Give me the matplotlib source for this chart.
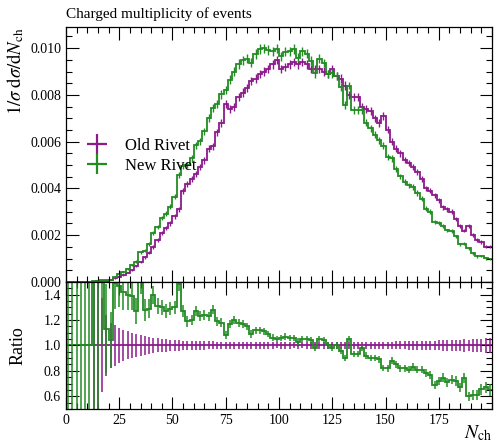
import matplotlib
matplotlib.use('Agg')
import matplotlib.pyplot as plt
from matplotlib.lines import Line2D
from matplotlib.ticker import MultipleLocator
import numpy as np

plt.rcParams['font.family'] = ['Liberation Serif', 'DejaVu Serif']
plt.rcParams['mathtext.fontset'] = 'stix'

# bins of width 2 in N_ch, 0..200
edges = np.arange(0, 202, 2)

# Old Rivet, 1/sigma dsigma/dNch per bin
old_vals = [
    0.0, 0.0, 0.0, 0.0, 0.0, 0.0, 0.00001, 0.00002, 0.00004, 0.00006,
    0.0001, 0.00015, 0.00022, 0.0003, 0.0004, 0.00052, 0.00068, 0.00085, 0.00105, 0.00125,
    0.0015, 0.0018, 0.0021, 0.0023, 0.0025, 0.0028, 0.0031, 0.0039, 0.0042, 0.0044,
    0.0046, 0.0049, 0.0052, 0.0057, 0.0058, 0.0064, 0.0068, 0.0076, 0.0074, 0.0075,
    0.0079, 0.0081, 0.0083, 0.0086, 0.0087, 0.0089, 0.0090, 0.0091, 0.0093, 0.0095,
    0.0091, 0.0092, 0.0093, 0.0094, 0.0093, 0.0094, 0.0093, 0.0091, 0.0091, 0.0091,
    0.0090, 0.0089, 0.0091, 0.0088, 0.0087, 0.0084, 0.0080, 0.0079, 0.0079, 0.0075,
    0.0074, 0.0073, 0.0070, 0.0068, 0.0071, 0.0065, 0.0060, 0.0057, 0.0055, 0.0052,
    0.0051, 0.0049, 0.0047, 0.0044, 0.0040, 0.0039, 0.0037, 0.0035, 0.0032, 0.0031,
    0.0030, 0.0027, 0.0024, 0.0022, 0.0024, 0.0020, 0.0018, 0.0017, 0.0015, 0.0015,
]

# New Rivet / Old Rivet per bin
ratio_vals = [
    1.0, 1.0, 1.0, 1.0, 1.0, 1.0, 2.0, 1.9, 1.7, 1.13,
    1.04, 1.49, 1.47, 1.42, 1.40, 1.39, 1.27, 1.50, 1.28, 1.29,
    1.40, 1.31, 1.30, 1.27, 1.29, 1.30, 1.48, 1.27, 1.19, 1.20,
    1.27, 1.23, 1.24, 1.23, 1.28, 1.19, 1.18, 1.08, 1.17, 1.20,
    1.18, 1.17, 1.15, 1.09, 1.12, 1.12, 1.11, 1.09, 1.06, 1.05,
    1.06, 1.07, 1.06, 1.06, 1.03, 1.05, 1.05, 1.04, 0.98, 1.05,
    1.04, 1.00, 0.98, 1.00, 0.96, 0.90, 1.05, 0.93, 0.93, 0.98,
    0.92, 0.90, 0.90, 0.89, 0.82, 0.82, 0.88, 0.85, 0.82, 0.82,
    0.81, 0.83, 0.81, 0.81, 0.785, 0.77, 0.69, 0.72, 0.745, 0.71,
    0.73, 0.72, 0.67, 0.745, 0.60, 0.61, 0.61, 0.655, 0.67, 0.65,
]

# relative stat. errors (Old Rivet) per bin
old_relerr = [
    0.0, 0.0, 0.0, 0.0, 0.0, 0.0, 1.2, 0.6, 0.37, 0.24,
    0.18, 0.16, 0.14, 0.12, 0.11, 0.10, 0.088, 0.08, 0.072, 0.066,
    0.06, 0.055, 0.051, 0.048, 0.046, 0.044, 0.042, 0.038, 0.037, 0.036,
    0.035, 0.034, 0.033, 0.031, 0.031, 0.03, 0.029, 0.028, 0.028, 0.028,
    0.027, 0.027, 0.026, 0.026, 0.026, 0.025, 0.025, 0.025, 0.025, 0.024,
    0.025, 0.025, 0.025, 0.024, 0.025, 0.024, 0.025, 0.025, 0.025, 0.025,
    0.025, 0.025, 0.025, 0.025, 0.026, 0.026, 0.026, 0.027, 0.027, 0.027,
    0.028, 0.028, 0.028, 0.029, 0.028, 0.029, 0.030, 0.031, 0.031, 0.032,
    0.033, 0.033, 0.034, 0.035, 0.036, 0.037, 0.038, 0.039, 0.040, 0.041,
    0.042, 0.044, 0.046, 0.048, 0.046, 0.050, 0.052, 0.054, 0.056, 0.056,
]

# ratio errors of New Rivet (new error / old value) per bin
new_ratioerr = [
    3.0, 3.0, 3.0, 3.0, 3.0, 3.0, 3.0, 1.5, 0.7, 0.35,
    0.22, 0.2, 0.17, 0.14, 0.12, 0.11, 0.1, 0.095, 0.085, 0.075,
    0.07, 0.065, 0.06, 0.055, 0.052, 0.05, 0.05, 0.045, 0.042, 0.04,
    0.04, 0.038, 0.037, 0.036, 0.036, 0.034, 0.033, 0.031, 0.032, 0.032,
    0.031, 0.03, 0.03, 0.029, 0.029, 0.028, 0.028, 0.027, 0.027, 0.026,
    0.026, 0.027, 0.026, 0.026, 0.026, 0.025, 0.025, 0.025, 0.025, 0.025,
    0.025, 0.025, 0.025, 0.025, 0.025, 0.024, 0.026, 0.025, 0.025, 0.026,
    0.026, 0.026, 0.026, 0.027, 0.025, 0.026, 0.028, 0.028, 0.028, 0.029,
    0.029, 0.03, 0.03, 0.031, 0.031, 0.032, 0.031, 0.033, 0.034, 0.034,
    0.035, 0.036, 0.037, 0.041, 0.036, 0.039, 0.04, 0.043, 0.045, 0.045,
]

c_old = '#8b1a8b'
c_new = '#228b22'

old_vals = np.array(old_vals)
ratio_vals = np.array(ratio_vals)
new_vals = old_vals * ratio_vals
centers = 0.5 * (edges[:-1] + edges[1:])

fig = plt.figure(figsize=(4.96, 4.44), dpi=100)
ax = fig.add_axes([0.133, 0.365, 0.859, 0.574])
rax = fig.add_axes([0.133, 0.079, 0.859, 0.286], sharex=ax)

# main panel
ax.stairs(old_vals, edges, color=c_old, lw=1.3, baseline=None)
ax.errorbar(centers, old_vals, yerr=old_vals * np.array(old_relerr) * 0.8, fmt='none',
            ecolor=c_old, elinewidth=1.0)
ax.stairs(new_vals, edges, color=c_new, lw=1.3, baseline=None)
ax.errorbar(centers, new_vals, yerr=old_vals * np.array(new_ratioerr) * 0.8, fmt='none',
            ecolor=c_new, elinewidth=1.0)

ax.set_xlim(0, 200)
ax.set_ylim(0, 0.0109)
ax.yaxis.set_major_locator(MultipleLocator(0.002))
ax.yaxis.set_minor_locator(MultipleLocator(0.0005))
ax.yaxis.set_major_formatter(plt.FuncFormatter(lambda v, p: '%.3f' % v))
ax.tick_params(labelbottom=False)
ax.set_ylabel(r'$1/\sigma\;\mathrm{d}\sigma/\mathrm{d}N_\mathrm{ch}$', fontsize=13.5, ha='right')
ax.yaxis.set_label_coords(-0.093, 1.0)
ax.text(0.0, 1.025, 'Charged multiplicity of events', transform=ax.transAxes,
        fontsize=11, ha='left', va='bottom')

handles = [Line2D([], [], color=c_old, marker='+', markersize=14, mew=1.6, ls='none'),
           Line2D([], [], color=c_new, marker='+', markersize=14, mew=1.6, ls='none')]
ax.legend(handles, ['Old Rivet', 'New Rivet'], loc='upper left', bbox_to_anchor=(0.008, 0.625),
          frameon=False, fontsize=12, handletextpad=0.95, labelspacing=0.25, handlelength=1.5)

# ratio panel
rax.stairs(np.ones(len(old_vals)), edges, color=c_old, lw=1.3, baseline=None)
rax.errorbar(centers, np.ones(len(old_vals)), yerr=old_relerr, fmt='none',
             ecolor=c_old, elinewidth=1.1)
rax.stairs(ratio_vals, edges, color=c_new, lw=1.3, baseline=None)
rax.errorbar(centers, ratio_vals, yerr=new_ratioerr, fmt='none', ecolor=c_new, elinewidth=1.1)
rax.set_ylim(0.5, 1.5)
rax.yaxis.set_major_locator(MultipleLocator(0.2))
rax.yaxis.set_minor_locator(MultipleLocator(0.05))
rax.xaxis.set_major_locator(MultipleLocator(25))
rax.xaxis.set_minor_locator(MultipleLocator(5))
rax.xaxis.set_major_formatter(plt.FuncFormatter(lambda v, p: '' if v >= 200 else '%d' % v))
rax.set_ylabel('Ratio', fontsize=13)
rax.yaxis.set_label_coords(-0.093, 0.5)
rax.text(1.0, -0.11, r'$N_\mathrm{ch}$', transform=rax.transAxes, fontsize=14,
         ha='right', va='top')

for a in (ax, rax):
    a.tick_params(which='both', direction='in', top=True, right=True, labelsize=10)
    a.tick_params(which='major', length=9, width=0.8)
    a.tick_params(which='minor', length=4.5, width=0.8)
    for s in a.spines.values():
        s.set_linewidth(0.9)

fig.savefig('out.png', dpi=100)
